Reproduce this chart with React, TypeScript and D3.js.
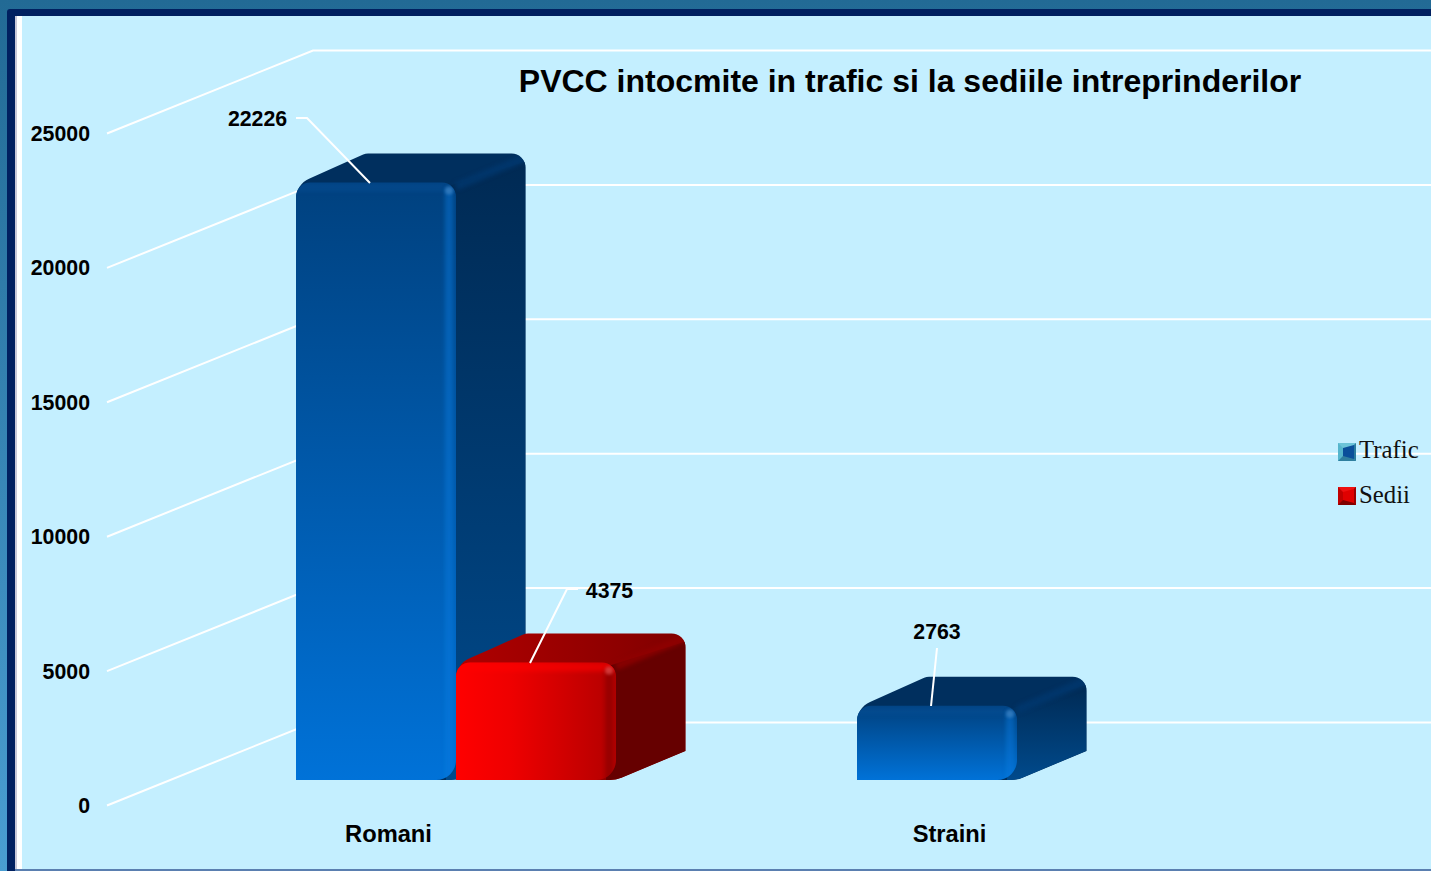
import React from "react";
import * as d3 from "d3";

const categories = ["Romani", "Straini"];
const seriesNames = ["Trafic", "Sedii"];
const trafic = [22226, 2763];
const sedii = [4375, null];
const yTicks = [0, 5000, 10000, 15000, 20000, 25000];
const chartTitle = "PVCC intocmite in trafic si la sediile intreprinderilor";

const W = 1431, H = 871;
const wallDX = 206, wallDY = -83;
const depthDX = 69.5, depthDY = -29;
const BAR_W = 160;
const baseOffset = 25;

const yFront = d3.scaleLinear().domain([0, 25000]).range([805, 133]);
const xBand = d3.scaleBand<string>().domain(categories).range([175.5, 1297.5]).paddingInner(0).paddingOuter(0);
const xSeries = d3.scaleBand<string>().domain(seriesNames).range([-160, 160]);

function roundPoly(pts: [number, number][], radii: number[]) {
  const p = d3.path();
  const n = pts.length;
  const mid = (a: [number, number], b: [number, number]): [number, number] => [(a[0] + b[0]) / 2, (a[1] + b[1]) / 2];
  const s = mid(pts[n - 1], pts[0]);
  p.moveTo(s[0], s[1]);
  pts.forEach((c, i) => {
    const next = pts[(i + 1) % n];
    const m = mid(c, next);
    if (radii[i] > 0) p.arcTo(c[0], c[1], m[0], m[1], radii[i]);
    else p.lineTo(c[0], c[1]);
    p.lineTo(m[0], m[1]);
  });
  p.closePath();
  return p.toString();
}

type Pal = { front: string; side: string; top: string; ridge: string; hi: string; edge: string; edgeOp: number; band: string; bandOp: number };
const palettes: Record<string, Pal> = {
  Trafic: { front: "url(#frontBlue)", side: "url(#sideBlue)", top: "#002f5e", ridge: "#00386f", hi: "#3f84c4", edge: "#0a7ce0", edgeOp: 0.45, band: "#1060b0", bandOp: 0.2 },
  Sedii: { front: "url(#frontRed)", side: "#660000", top: "url(#topRed)", ridge: "#900000", hi: "#e05050", edge: "#7a0000", edgeOp: 0.5, band: "#ff0000", bandOp: 0.6 },
};

function Bar({ x, value, series }: { x: number; value: number; series: string }) {
  const pal = palettes[series];
  const bottom = yFront(0) - baseOffset;
  const y = yFront(value) - baseOffset;
  const r = x + BAR_W;
  const silhouette = roundPoly(
    [[x, bottom], [x, y + 2], [x + depthDX, y + depthDY], [r + depthDX, y + depthDY], [r + depthDX, bottom + depthDY], [r, bottom]],
    [1, 22, 12, 14, 0, 30]
  );
  const sideFace = roundPoly(
    [[r - 6, y + 3], [r + depthDX, y + depthDY + 8], [r + depthDX, bottom + depthDY], [r, bottom], [r - 10, bottom]],
    [0, 0, 0, 30, 0]
  );
  const front = roundPoly([[x, y], [r, y], [r, bottom], [x, bottom]], [14, 14, 20, 1]);
  const gid = series + Math.round(x);
  return (
    <g>
      <path d={silhouette} fill={pal.top} />
      <clipPath id={`s${gid}`}><path d={silhouette} /></clipPath>
      <g clipPath={`url(#s${gid})`}>
        <path d={sideFace} fill={pal.side} />
        <path d={`M${r},${y + 4}L${r + depthDX},${y + depthDY + 4}`} stroke={pal.ridge} strokeWidth={8} opacity={0.8} style={{ filter: "blur(2px)" }} />
      </g>
      <path d={front} fill={pal.front} />
      <clipPath id={`c${gid}`}><path d={front} /></clipPath>
      <g clipPath={`url(#c${gid})`}>
        <rect x={x} y={y} width={BAR_W} height={9} fill={pal.band} opacity={pal.bandOp} style={{ filter: "blur(2px)" }} />
        <rect x={r - 11} y={y + 6} width={8} height={bottom - y} fill={pal.edge} opacity={pal.edgeOp} style={{ filter: "blur(2px)" }} />
        <circle cx={r - 7} cy={y + 8} r={4} fill={pal.hi} opacity={0.7} style={{ filter: "blur(1.5px)" }} />
      </g>
    </g>
  );
}

const leaders = [
  { cat: "Romani", ser: "Trafic", label: "22226", pts: [[296, 118], [307, 118], [370, 183]], tx: 257.5, ty: 119 },
  { cat: "Romani", ser: "Sedii", label: "4375", pts: [[578, 589], [567, 589], [530, 663]], tx: 609.5, ty: 591 },
  { cat: "Straini", ser: "Trafic", label: "2763", pts: [[937, 648], [931, 706]], tx: 937, ty: 632 },
];
const sans = "'Liberation Sans', Arial, sans-serif";
const serif = "'Liberation Serif', serif";

function Swatch({ y, left, topC, dark, right, core }: { y: number; left: string; topC: string; dark: string; right: string; core: string }) {
  const x = 1338, s = 18, i = 5;
  return (
    <g>
      <rect x={x} y={y} width={s} height={s} fill={left} />
      <path d={`M${x},${y}L${x + s},${y}L${x + s - i},${y + i}L${x + i},${y + i}Z`} fill={topC} />
      <path d={`M${x},${y + s}L${x + s},${y + s}L${x + s - i},${y + s - i}L${x + i},${y + s - i}Z`} fill={dark} />
      <path d={`M${x + s},${y}L${x + s},${y + s}L${x + s - 2},${y + s - 2}L${x + s - 2},${y + 2}Z`} fill={right} />
      <path d={`M${x + i},${y + i}L${x + s - 2},${y + 2}L${x + s - 2},${y + s - 2}L${x + i},${y + s - i}Z`} fill={core} />
    </g>
  );
}

export default function App() {
  return (
    <svg width={W} height={H} viewBox={`0 0 ${W} ${H}`} style={{ position: "fixed", left: 0, top: 0, display: "block" }}>
      <defs>
        <linearGradient id="bgEdge" x1="0" x2="0" y1="0" y2="1">
          <stop offset="0" stopColor="#226a95" /><stop offset="1" stopColor="#4a9ed2" />
        </linearGradient>
        <linearGradient id="frontBlue" x1="0" x2="0" y1="0" y2="1">
          <stop offset="0" stopColor="#00417f" /><stop offset="1" stopColor="#0072d8" />
        </linearGradient>
        <linearGradient id="sideBlue" x1="0" x2="0" y1="0" y2="1">
          <stop offset="0" stopColor="#002a54" /><stop offset="1" stopColor="#004a8c" />
        </linearGradient>
        <linearGradient id="frontRed" x1="0" x2="1" y1="0" y2="0">
          <stop offset="0" stopColor="#ff0000" /><stop offset="0.35" stopColor="#ee0000" /><stop offset="1" stopColor="#b30000" />
        </linearGradient>
        <linearGradient id="topRed" x1="0" x2="1" y1="0" y2="0">
          <stop offset="0" stopColor="#b00000" /><stop offset="1" stopColor="#800000" />
        </linearGradient>
      </defs>

      <rect width={W} height={H} fill="url(#bgEdge)" />
      <rect x={7} y={9} width={W} height={H} rx={3} fill="#002060" />
      <rect x={15} y={16} width={W} height={H} fill="#ffffff" />
      <rect x={15} y={16} width={2} height={H} fill="#c8c8d8" />
      <rect x={22} y={16} width={W} height={H - 17} fill="#c4efff" />
      <rect x={15} y={869} width={W} height={2} fill="#5a7fb0" />

      {yTicks.map((t) => {
        const y = yFront(t) + 0.5;
        const wx = 107 + wallDX, wy = y + wallDY;
        return (
          <g key={t}>
            <polyline points={`107,${y} ${wx},${wy} ${W},${wy}`} fill="none" stroke="#fff" strokeWidth={2} />
            <text x={90} y={y + 7.5} textAnchor="end" fontFamily={sans} fontWeight={700} fontSize={21.3} fill="#000">{t}</text>
          </g>
        );
      })}

      {categories.map((c, i) => {
        const cx = xBand(c)! + xBand.bandwidth() / 2;
        return (
          <g key={c}>
            <Bar x={cx + xSeries("Trafic")!} value={trafic[i]} series="Trafic" />
            {sedii[i] !== null && <Bar x={cx + xSeries("Sedii")!} value={sedii[i] as number} series="Sedii" />}
          </g>
        );
      })}

      {categories.map((c) => {
        const cx = xBand(c)! + xBand.bandwidth() / 2;
        return <text key={c} x={cx - 67.5} y={842} textAnchor="middle" fontFamily={sans} fontWeight={700} fontSize={23.7} fill="#000">{c}</text>;
      })}

      {leaders.map((l) => (
        <g key={l.label}>
          <polyline points={l.pts.map((p) => p.join(",")).join(" ")} fill="none" stroke="#fff" strokeWidth={2} />
          <text x={l.tx} y={l.ty + 7} textAnchor="middle" fontFamily={sans} fontWeight={700} fontSize={21.3} fill="#000">{l.label}</text>
        </g>
      ))}

      <text x={910} y={92} textAnchor="middle" fontFamily={sans} fontWeight={700} fontSize={32} fill="#000">{chartTitle}</text>

      <Swatch y={443} left="#55b5cc" topC="#6cc4d8" dark="#2f7f9f" right="#2a7ca0" core="#0a4f9a" />
      <Swatch y={487} left="#c00000" topC="#ee1010" dark="#800000" right="#9a0000" core="#e00000" />
      <text x={1359} y={458} fontFamily={serif} fontSize={24.8} fill="#111">{seriesNames[0]}</text>
      <text x={1359} y={503} fontFamily={serif} fontSize={24.8} fill="#111">{seriesNames[1]}</text>
    </svg>
  );
}
